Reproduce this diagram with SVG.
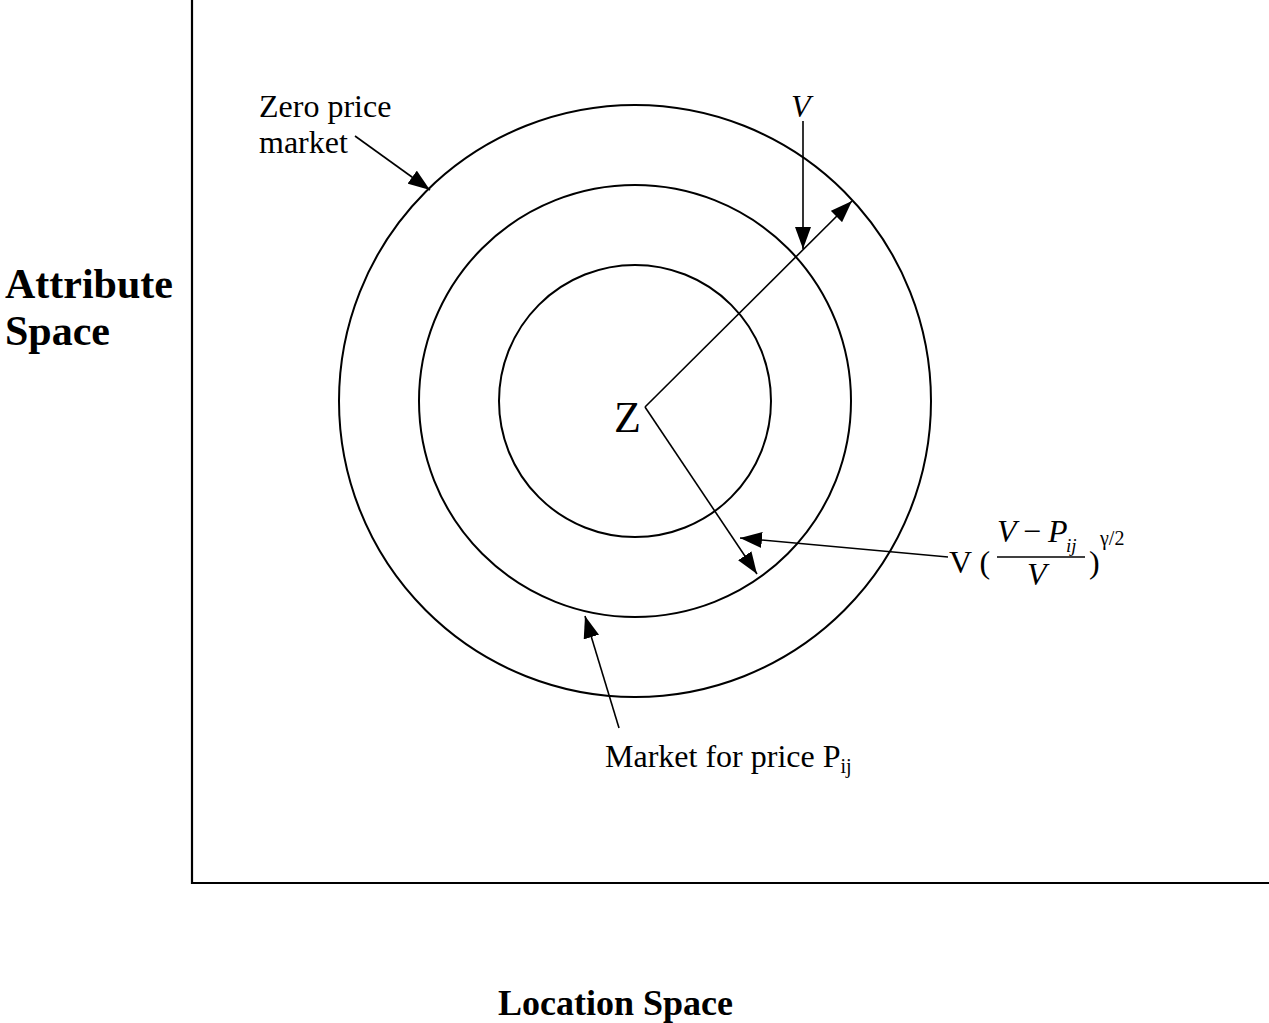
<svg xmlns="http://www.w3.org/2000/svg" width="1269" height="1023" viewBox="0 0 1269 1023">
<style>
text{font-family:"Liberation Serif","Times New Roman",serif;fill:#000}
.b{font-weight:bold}
.i{font-style:italic}
.c{fill:none;stroke:#000;stroke-width:2}
.ax{fill:none;stroke:#000;stroke-width:2.2}
.ln{stroke:#000;stroke-width:1.6;fill:none}
.ar{marker-end:url(#ah)}
</style>
<defs>
<marker id="ah" markerUnits="userSpaceOnUse" markerWidth="22" markerHeight="16" refX="22" refY="8" orient="auto">
<path d="M0,0 L22,8 L0,16 z" fill="#000"/>
</marker>
</defs>
<g id="axes">
<path class="ax" d="M192,0 V883 H1269"/>
</g>
<g id="circles">
<circle id="outer" class="c" cx="635" cy="401" r="296"/>
<circle id="middle" class="c" cx="635" cy="401" r="216"/>
<circle id="inner" class="c" cx="635" cy="401" r="136"/>
</g>
<g id="connectors">
<line class="ln ar" x1="645" y1="407" x2="852" y2="201"/>
<line class="ln ar" x1="645" y1="407" x2="757" y2="574"/>
<line class="ln ar" x1="803" y1="121" x2="803" y2="249"/>
<line class="ln ar" x1="355" y1="136" x2="430" y2="190"/>
<line class="ln ar" x1="948" y1="557" x2="740" y2="538"/>
<line class="ln ar" x1="619" y1="728" x2="585" y2="616"/>
</g>
<g id="label-z"><text x="614" y="432" font-size="44">Z</text></g>
<g id="label-v"><text class="i" x="791" y="117" font-size="32">V</text></g>
<g id="label-zero"><text x="259" y="117" font-size="32">Zero price</text><text x="259" y="153" font-size="32">market</text></g>
<g id="label-formula">
<text x="949" y="573" font-size="32">V (</text>
<text class="i" x="997" y="542" font-size="32">V</text>
<text x="1023" y="542" font-size="32">−</text>
<text class="i" x="1048" y="542" font-size="32">P</text>
<text class="i" x="1066" y="552" font-size="19">ij</text>
<line x1="997" y1="557" x2="1085" y2="557" stroke="#000" stroke-width="1.6"/>
<text class="i" x="1027" y="585" font-size="32">V</text>
<text x="1089" y="573" font-size="32">)</text>
<text x="1100" y="545" font-size="20">γ/2</text>
</g>
<g id="label-market"><text x="605" y="767" font-size="32">Market for price P<tspan font-size="20" dy="6">ij</tspan></text></g>
<g id="label-attr"><text class="b" x="5" y="298" font-size="42">Attribute</text><text class="b" x="5" y="345" font-size="42">Space</text></g>
<g id="label-loc"><text class="b" x="498" y="1015" font-size="36">Location Space</text></g>
</svg>
